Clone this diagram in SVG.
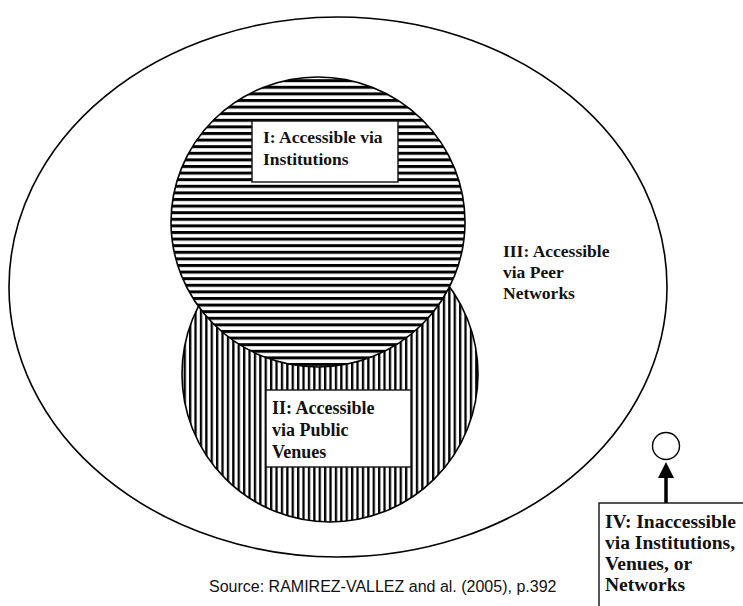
<svg xmlns="http://www.w3.org/2000/svg" width="743" height="606" viewBox="0 0 743 606">
<style>
.outline{fill:none;stroke:#000;stroke-width:1.6}
.box{fill:#fff;stroke:#111;stroke-width:1.4}
.lbl{font-family:"Liberation Serif","Times New Roman",serif;font-weight:bold;fill:#111}
.src{font-family:"Liberation Sans",Arial,sans-serif;font-size:16px;fill:#111}
.conn{stroke:#000;stroke-width:3.5;fill:none}
</style>
<defs>
<pattern id="hatchH" patternUnits="userSpaceOnUse" width="8" height="6.6">
<rect x="0" y="0" width="8" height="6.6" fill="#fff"/>
<rect x="0" y="0" width="8" height="3" fill="#000"/>
</pattern>
<pattern id="hatchV" patternUnits="userSpaceOnUse" width="5.4" height="8">
<rect x="0" y="0" width="5.4" height="8" fill="#fff"/>
<rect x="0" y="0" width="2.3" height="8" fill="#000"/>
</pattern>
<marker id="arrowhead" viewBox="0 0 10 10" refX="0" refY="5" markerWidth="18" markerHeight="16" markerUnits="userSpaceOnUse" orient="auto">
<path d="M0,0 L10,5 L0,10 z" fill="#000"/>
</marker>
</defs>
<rect width="743" height="606" fill="#fff"/>
<g id="node-III">
<ellipse class="outline" cx="338" cy="287" rx="329" ry="270"/>
<text class="lbl" font-size="17.5" x="503"><tspan x="503" y="257">III: Accessible</tspan><tspan x="503" y="278">via Peer</tspan><tspan x="503" y="299">Networks</tspan></text>
</g>
<g id="node-II">
<circle cx="330" cy="374" r="148" fill="url(#hatchV)" stroke="#000" stroke-width="1.6"/>
</g>
<g id="node-I">
<ellipse cx="318" cy="222" rx="147" ry="145" fill="url(#hatchH)" stroke="#000" stroke-width="1.6"/>
<rect class="box" x="252" y="121" width="146" height="61"/>
<text class="lbl" font-size="17.5"><tspan x="263" y="143">I: Accessible via</tspan><tspan x="263" y="165">Institutions</tspan></text>
</g>
<g id="node-II-label">
<rect class="box" x="266" y="390" width="145" height="77"/>
<text class="lbl" font-size="18"><tspan x="272" y="414">II: Accessible</tspan><tspan x="272" y="436">via Public</tspan><tspan x="272" y="458">Venues</tspan></text>
</g>
<g id="node-IV-circle">
<circle cx="666" cy="446" r="13.5" fill="#fff" stroke="#000" stroke-width="1.4"/>
</g>
<g id="node-IV">
<rect class="box" x="599" y="503" width="170" height="120"/>
<text class="lbl" font-size="19.5"><tspan x="605" y="528">IV: Inaccessible</tspan><tspan x="605" y="549">via Institutions,</tspan><tspan x="605" y="570">Venues, or</tspan><tspan x="605" y="591">Networks</tspan></text>
</g>
<g id="connectors">
<line class="conn" x1="666" y1="503" x2="666" y2="478" marker-end="url(#arrowhead)"/>
</g>
<text class="src" x="209" y="592">Source: RAMIREZ-VALLEZ and al. (2005), p.392</text>
</svg>
